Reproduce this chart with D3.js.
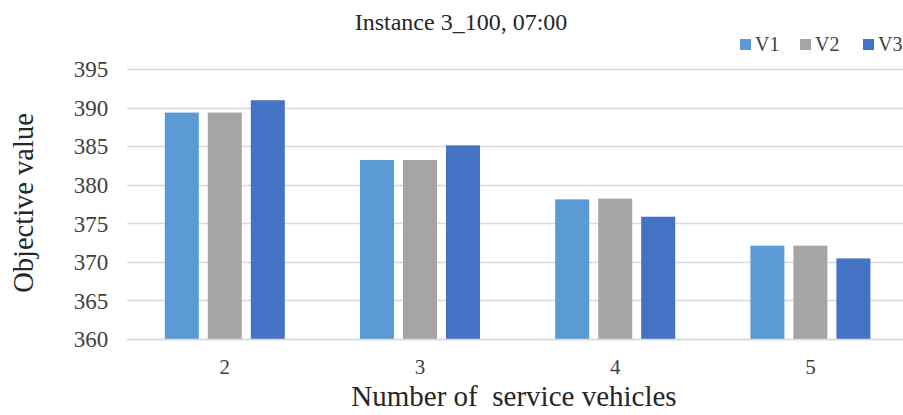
<!DOCTYPE html>
<html>
<head>
<meta charset="utf-8">
<script src="https://cdn.jsdelivr.net/npm/d3@7"></script>
<style>
  html, body { margin: 0; padding: 0; background: #fff; }
  svg { display: block; }
  svg text { font-family: "Liberation Serif", "Times New Roman", serif; white-space: pre; }
</style>
</head>
<body>
<svg id="chart" width="903" height="415"></svg>
<script>
// Objective value per fleet size for three variants
const categories = ["2", "3", "4", "5"];
const seriesNames = ["V1", "V2", "V3"];
const v1 = [389.35, 383.2, 378.1, 372.1];
const v2 = [389.35, 383.2, 378.2, 372.1];
const v3 = [390.95, 385.1, 375.85, 370.45];
const yTicks = [360, 365, 370, 375, 380, 385, 390, 395];
const colors = ["#5B9BD5", "#A5A5A5", "#4472C4"];

const values = [v1, v2, v3];
const svg = d3.select("#chart");

const plot = { left: 127.2, right: 908, top: 69, bottom: 339 };

const x = d3.scaleBand().domain(categories).range([plot.left, plot.right]).paddingInner(0).paddingOuter(0);
const y = d3.scaleLinear().domain([360, 395]).range([plot.bottom, plot.top]);

const barW = 34, barGap = 9;
const groupW = seriesNames.length * barW + (seriesNames.length - 1) * barGap;

// horizontal gridlines
svg.append("g")
  .selectAll("line")
  .data(yTicks)
  .join("line")
  .attr("x1", plot.left)
  .attr("x2", plot.right)
  .attr("y1", d => Math.round(y(d)) + 0.5)
  .attr("y2", d => Math.round(y(d)) + 0.5)
  .attr("stroke", "#D9D9D9")
  .attr("stroke-width", 1.4);

// y-axis tick labels
const yAxis = d3.axisLeft(y).tickValues(yTicks).tickSize(0).tickPadding(0);
const gy = svg.append("g").attr("transform", `translate(${plot.left - 19},0)`).call(yAxis);
gy.select(".domain").remove();
gy.attr("font-family", null).attr("font-size", null);
gy.selectAll("text")
  .attr("dy", "0.34em")
  .attr("font-size", 23)
  .attr("fill", "#404040");

// bars
const groups = svg.append("g")
  .selectAll("g")
  .data(categories)
  .join("g")
  .attr("transform", d => `translate(${x(d) + (x.bandwidth() - groupW) / 2},0)`);

groups.selectAll("rect")
  .data((c, i) => values.map((s, k) => ({ k, v: s[i] })))
  .join("rect")
  .attr("x", d => d.k * (barW + barGap))
  .attr("y", d => y(d.v))
  .attr("width", barW)
  .attr("height", d => y(360) - y(d.v))
  .attr("fill", d => colors[d.k]);

// baseline redrawn over bar bottoms
svg.append("line")
  .attr("x1", plot.left).attr("x2", plot.right)
  .attr("y1", Math.round(y(360)) + 0.5).attr("y2", Math.round(y(360)) + 0.5)
  .attr("stroke", "#D9D9D9").attr("stroke-width", 1.4);

// x-axis tick labels
const xAxis = d3.axisBottom(x).tickSize(0).tickPadding(0);
const gx = svg.append("g").attr("transform", `translate(0,${plot.bottom + 20})`).call(xAxis);
gx.select(".domain").remove();
gx.attr("font-family", null).attr("font-size", null);
gx.selectAll("text")
  .attr("font-size", 21)
  .attr("fill", "#404040");

// title
svg.append("text")
  .attr("x", 461).attr("y", 30)
  .attr("text-anchor", "middle")
  .attr("font-size", 24)
  .attr("fill", "#262626")
  .text("Instance 3_100, 07:00");

// axis titles
svg.append("text")
  .attr("x", 514).attr("y", 406)
  .attr("text-anchor", "middle")
  .attr("font-size", 29)
  .attr("fill", "#262626")
  .text("Number of  service vehicles");

svg.append("text")
  .attr("transform", "translate(33,203) rotate(-90)")
  .attr("text-anchor", "middle")
  .attr("font-size", 28.5)
  .attr("fill", "#262626")
  .text("Objective value");

// legend
const legendX = [740, 800, 863];
const legend = svg.append("g")
  .selectAll("g")
  .data(seriesNames)
  .join("g")
  .attr("transform", (d, i) => `translate(${legendX[i]},39)`);
legend.append("rect")
  .attr("width", 11).attr("height", 11)
  .attr("fill", (d, i) => colors[i]);
legend.append("text")
  .attr("x", 15).attr("y", 12)
  .attr("font-size", 20)
  .attr("fill", "#404040")
  .text(d => d);
</script>
</body>
</html>
